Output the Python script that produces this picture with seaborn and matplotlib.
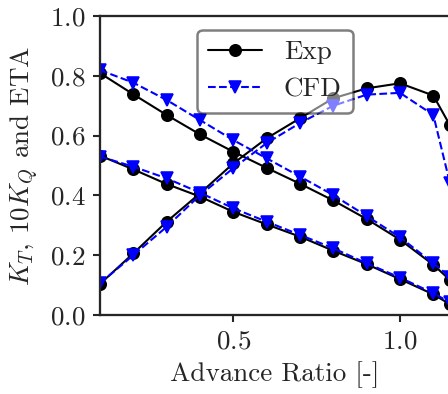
import numpy as np
import pandas as pd
import matplotlib
matplotlib.use("Agg")
import matplotlib.pyplot as plt
import seaborn as sns

# ---- data ----
J = [0.1, 0.2, 0.3, 0.4, 0.5, 0.6, 0.7, 0.8, 0.9, 1.0, 1.1, 1.15]

exp_kt = [0.809, 0.738, 0.669, 0.604, 0.546, 0.492, 0.439, 0.383, 0.321, 0.252, 0.168, 0.117]
exp_10kq = [0.533, 0.487, 0.438, 0.396, 0.345, 0.303, 0.262, 0.215, 0.170, 0.120, 0.069, 0.036]
exp_eta = [0.104, 0.206, 0.312, 0.407, 0.507, 0.591, 0.658, 0.725, 0.758, 0.775, 0.734, 0.634]

cfd_kt = [0.819, 0.777, 0.719, 0.652, 0.585, 0.524, 0.463, 0.401, 0.331, 0.260, 0.173, 0.128]
cfd_10kq = [0.530, 0.496, 0.457, 0.409, 0.357, 0.312, 0.268, 0.223, 0.173, 0.125, 0.073, 0.042]
cfd_eta = [0.106, 0.200, 0.295, 0.401, 0.491, 0.575, 0.642, 0.700, 0.737, 0.743, 0.669, 0.440]

x_ticks = [0.5, 1.0]
y_ticks = [0.0, 0.2, 0.4, 0.6, 0.8, 1.0]

sns.set_style("ticks")
plt.rcParams["font.family"] = "serif"
plt.rcParams["font.serif"] = ["cmr10", "DejaVu Serif"]
plt.rcParams["mathtext.fontset"] = "cm"
plt.rcParams["axes.formatter.use_mathtext"] = True
plt.rcParams["axes.unicode_minus"] = False
plt.rcParams["font.size"] = 13

fig = plt.figure(figsize=(448 / 150, 394 / 150), dpi=150)
ax = fig.add_axes([100 / 448, 79 / 394, 350 / 448, 299 / 394])

series = [
    ("Exp", exp_kt, "k", "o", "-"),
    ("Exp", exp_10kq, "k", "o", "-"),
    ("Exp", exp_eta, "k", "o", "-"),
    ("CFD", cfd_kt, "b", "v", "--"),
    ("CFD", cfd_10kq, "b", "v", "--"),
    ("CFD", cfd_eta, "b", "v", "--"),
]
seen = set()
for name, vals, col, mk, ls in series:
    df = pd.DataFrame({"J": J, "v": vals})
    lab = name if name not in seen else None
    seen.add(name)
    sns.lineplot(data=df, x="J", y="v", ax=ax, color=col, marker=mk,
                 linestyle=ls, linewidth=1.0, markersize=5.5,
                 markeredgecolor=col, sort=False, label=lab, legend=False)

ax.set_xlim(0.1, 1.15)
ax.set_ylim(0.0, 1.0)
ax.set_xticks(x_ticks)
ax.set_yticks(y_ticks)
ax.set_xlabel("Advance Ratio [-]", fontsize=13)
ax.set_ylabel(r"$K_T$, $10K_Q$ and ETA", fontsize=13)
ax.tick_params(labelsize=13, length=3.5, width=1.0)
for s in ax.spines.values():
    s.set_linewidth(1.1)

leg = ax.legend(loc="upper center", fontsize=13, framealpha=0.5,
                edgecolor="k", fancybox=True)
leg.get_frame().set_linewidth(1.2)

fig.savefig("out.png", dpi=150)
